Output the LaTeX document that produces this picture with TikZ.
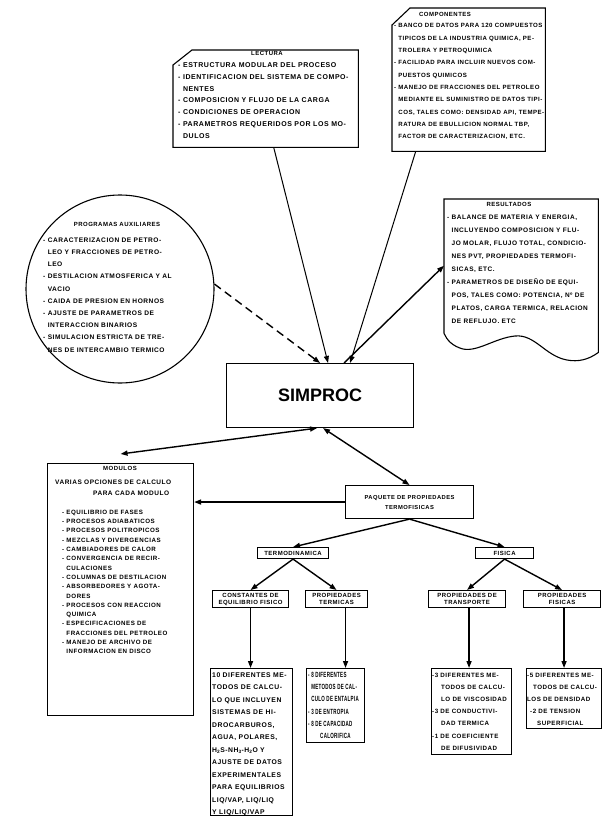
\documentclass[tikz,border=0pt]{standalone}
\usepackage{fontspec}
\setmainfont{Liberation Sans}
\newfontfamily\scan[LetterSpace=8]{Liberation Sans}
\newfontfamily\scannarrow[LetterSpace=4,FakeStretch=0.6]{Liberation Sans Bold}
\usetikzlibrary{arrows.meta}
\tikzset{node distance=2cm, auto, >={Triangle[length=7pt,width=5pt]}}
\newcommand{\contline}{\hphantom{-\ }}

\begin{document}
\begin{tikzpicture}[x=1pt, y=-1pt,
  box/.style={draw, line width=1.1pt, inner sep=0, anchor=north west},
  tag/.style={box, align=center, font=\scan\bfseries\fontsize{6}{7}\selectfont},
  txt/.style 2 args={anchor=north west, inner sep=0, align=left, font=\scan\bfseries\fontsize{#1}{#2}\selectfont},
  link/.style={->, line width=1.4pt}]
  \useasboundingbox (0,0) rectangle (602,816);

  \node[box, minimum width=187, minimum height=64, font=\bfseries\fontsize{18}{20}\selectfont] (simp) at (226,363) {SIMPROC};

  \node[inner sep=0, minimum width=185, minimum height=97, anchor=north west] (lect) at (173,50) {};
  \draw[line width=1.1pt] (lect.south west) -- ([yshift=-15pt]lect.north west) -- ([xshift=19pt]lect.north west) -- (lect.north east) -- (lect.south east) -- cycle;
  \node[txt={6}{8}, anchor=north] (lecttit) at (267,51) {LECTURA};
  \node[txt={7}{11.8}] (lecttxt) at (178,62.5) {- ESTRUCTURA MODULAR DEL PROCESO\\
    - IDENTIFICACION DEL SISTEMA DE COMPO-\\ \contline NENTES\\
    - COMPOSICION Y FLUJO DE LA CARGA\\
    - CONDICIONES DE OPERACION\\
    - PARAMETROS REQUERIDOS POR LOS MO-\\ \contline DULOS};

  \node[inner sep=0, minimum width=153, minimum height=143, anchor=north west] (comp) at (392,8) {};
  \draw[line width=1.1pt] (comp.south west) -- ([yshift=-17pt]comp.north west) -- ([xshift=18pt]comp.north west) -- (comp.north east) -- (comp.south east) -- cycle;
  \node[txt={6}{8}, anchor=north] (comptit) at (445,12.5) {COMPONENTES};
  \node[txt={6.1}{12.3}] (comptxt) at (394,23.5) {- BANCO DE DATOS PARA 120 COMPUESTOS\\
    \contline TIPICOS DE LA INDUSTRIA QUIMICA, PE-\\ \contline TROLERA Y PETROQUIMICA\\
    - FACILIDAD PARA INCLUIR NUEVOS COM-\\ \contline PUESTOS QUIMICOS\\
    - MANEJO DE FRACCIONES DEL PETROLEO\\
    \contline MEDIANTE EL SUMINISTRO DE DATOS TIPI-\\
    \contline COS, TALES COMO: DENSIDAD API, TEMPE-\\
    \contline RATURA DE EBULLICION NORMAL TBP,\\
    \contline FACTOR DE CARACTERIZACION, ETC.};

  \node[circle, draw, line width=1.1pt, minimum size=188, inner sep=0] (aux) at (120,289) {};
  \node[txt={6}{8}, anchor=north] (auxtit) at (117,222) {PROGRAMAS AUXILIARES};
  \node[txt={6.6}{12.2}] (auxtxt) at (43,237.5) {- CARACTERIZACION DE PETRO-\\
    \contline LEO Y FRACCIONES DE PETRO-\\ \contline LEO\\
    - DESTILACION ATMOSFERICA Y AL\\ \contline VACIO\\
    - CAIDA DE PRESION EN HORNOS\\
    - AJUSTE DE PARAMETROS DE\\ \contline INTERACCION BINARIOS\\
    - SIMULACION ESTRICTA DE TRE-\\ \contline NES DE INTERCAMBIO TERMICO};

  \node[inner sep=0, minimum width=154, minimum height=153, anchor=north west] (res) at (444,199) {};
  \draw[line width=1.1pt] ([yshift=19pt]res.south west) -- (res.north west) -- (res.north east) -- (res.south east)
    .. controls (588,360) and (578,362) .. (567,360) .. controls (545,356) and (535,334) .. (515,336)
    .. controls (495,338) and (478,352) .. (463,349) .. controls (452,346) and (447,340) .. ([yshift=19pt]res.south west);
  \node[txt={6}{8}, anchor=north] (restit) at (509,202) {RESULTADOS};
  \node[txt={6.5}{13}] (restxt) at (447,214.5) {- BALANCE DE MATERIA Y ENERGIA,\\
    \contline INCLUYENDO COMPOSICION Y FLU-\\
    \contline JO MOLAR, FLUJO TOTAL, CONDICIO-\\
    \contline NES PVT, PROPIEDADES TERMOFI-\\
    \contline SICAS, ETC.\\
    - PARAMETROS DE DISEÑO DE EQUI-\\
    \contline POS, TALES COMO: POTENCIA, Nº DE\\
    \contline PLATOS, CARGA TERMICA, RELACION\\
    \contline DE REFLUJO. ETC};

  \node[box, minimum width=146, minimum height=252] (mod) at (47,463) {};
  \node[txt={6}{8}, anchor=north] (modtit) at (120,466) {MODULOS};
  \node[txt={6.5}{11}] (modsub) at (55,479.5) {VARIAS OPCIONES DE CALCULO\\ \hspace*{38pt}PARA CADA MODULO};
  \node[txt={6.2}{9.3}] (modtxt) at (62,509.8) {- EQUILIBRIO DE FASES\\
    - PROCESOS ADIABATICOS\\
    - PROCESOS POLITROPICOS\\
    - MEZCLAS Y DIVERGENCIAS\\
    - CAMBIADORES DE CALOR\\
    - CONVERGENCIA DE RECIR-\\ \contline CULACIONES\\
    - COLUMNAS DE DESTILACION\\
    - ABSORBEDORES Y AGOTA-\\ \contline DORES\\
    - PROCESOS CON REACCION\\ \contline QUIMICA\\
    - ESPECIFICACIONES DE\\ \contline FRACCIONES DEL PETROLEO\\
    - MANEJO DE ARCHIVO DE\\ \contline INFORMACION EN DISCO};

  \node[box, minimum width=128, minimum height=33, align=center, font=\scan\bfseries\fontsize{5.8}{10}\selectfont] (paq) at (345,485) {PAQUETE DE PROPIEDADES\\TERMOFISICAS};
  \node[tag, minimum width=71, minimum height=11] (term) at (257,547) {TERMODINAMICA};
  \node[tag, minimum width=58, minimum height=11] (fis) at (475,547) {FISICA};
  \node[tag, minimum width=76, minimum height=17] (cons) at (212,590) {CONSTANTES DE\\EQUILIBRIO FISICO};
  \node[tag, minimum width=62, minimum height=17] (pter) at (305,590) {PROPIEDADES\\TERMICAS};
  \node[tag, minimum width=77, minimum height=17] (ptra) at (428,590) {PROPIEDADES DE\\TRANSPORTE};
  \node[tag, minimum width=77, minimum height=17] (pfis) at (523,590) {PROPIEDADES\\FISICAS};

  \node[box, minimum width=82, minimum height=147] (vle) at (210,668) {};
  \node[txt={6.8}{12.5}] (vletxt) at (212,672.5) {10 DIFERENTES ME-\\ TODOS DE CALCU-\\ LO QUE INCLUYEN\\
    SISTEMAS DE HI-\\ DROCARBUROS,\\ AGUA, POLARES,\\
    H\textsubscript{2}S-NH\textsubscript{3}-H\textsubscript{2}O Y\\ AJUSTE DE DATOS\\
    EXPERIMENTALES\\ PARA EQUILIBRIOS\\ LIQ/VAP, LIQ/LIQ\\ Y LIQ/LIQ/VAP};
  \node[box, minimum width=58, minimum height=74] (ent) at (306,668) {};
  \node[anchor=north west, inner sep=0, align=left, font=\scannarrow\fontsize{7.5}{12.2}\selectfont] (enttxt) at (308,672) {- 8 DIFERENTES\\
    \contline METODOS DE CAL-\\ \contline CULO DE ENTALPIA\\
    - 3 DE ENTROPIA\\ - 8 DE CAPACIDAD\\ \hspace*{12pt}CALORIFICA};
  \node[box, minimum width=80, minimum height=86] (visc) at (431,668) {};
  \node[txt={6.2}{12.2}] (visctxt) at (432,672.5) {-3 DIFERENTES ME-\\
    \hspace*{9pt}TODOS DE CALCU-\\ \hspace*{9pt}LO DE VISCOSIDAD\\
    -3 DE CONDUCTIVI-\\ \hspace*{9pt}DAD TERMICA\\
    -1 DE COEFICIENTE\\ \hspace*{9pt}DE DIFUSIVIDAD};
  \node[box, minimum width=75, minimum height=60] (dens) at (526,668) {};
  \node[txt={6.2}{12}] (denstxt) at (527,672.5) {-5 DIFERENTES ME-\\
    \hspace*{6pt}TODOS DE CALCU-\\ LOS DE DENSIDAD\\
    \hspace*{3pt}-2 DE TENSION\\ \hspace*{10pt}SUPERFICIAL};

  \draw[link, line width=1pt] ([xshift=8pt]lect.south) to ([xshift=8pt]simp.north);
  \draw[link, line width=1pt] ([xshift=-53pt]comp.south) to ([xshift=30pt]simp.north);
  \draw[link, dash pattern=on 8pt off 5pt] (aux.3) to (simp.north);
  \draw[link] ([xshift=24pt]simp.north) to ([yshift=10pt]res.west);
  \draw[link, <->] ([xshift=-3pt]simp.south) to ([yshift=9pt]mod.north);
  \draw[link, <->] ([xshift=3pt]simp.south) to (paq.north);
  \draw[link] (paq.west) to (paq.west -| mod.east);
  \draw[link] (paq.south) to (term.north);
  \draw[link] (paq.south) to (fis.north);
  \draw[link] (term.south) to (cons.north);
  \draw[link] (term.south) to (pter.north);
  \draw[link] (fis.south) to (ptra.north);
  \draw[link] (fis.south) to (pfis.north);
  \draw[link] (cons.south) to (cons.south |- vle.north);
  \draw[link] ([xshift=9pt]pter.south) to ([xshift=9pt]pter.south |- ent.north);
  \draw[link] ([xshift=2pt]ptra.south) to ([xshift=2pt]ptra.south |- visc.north);
  \draw[link] ([xshift=2pt]pfis.south) to ([xshift=2pt]pfis.south |- dens.north);
\end{tikzpicture}
\end{document}
